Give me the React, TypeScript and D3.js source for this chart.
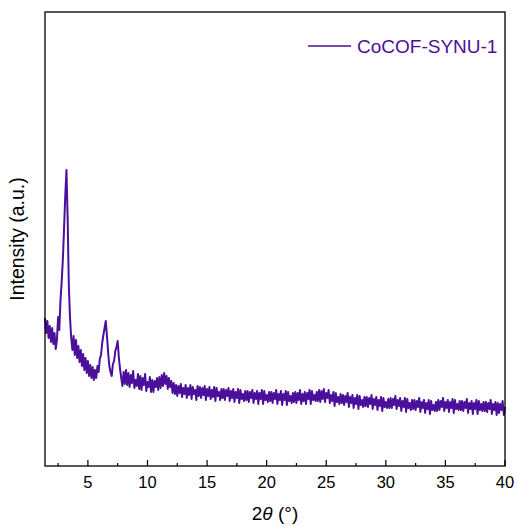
import React from "react";
import * as d3 from "d3";

const seriesName = "CoCOF-SYNU-1";
const startAngle = 1.4;
const angleStep = 0.1;
const intensity: number[] = [
  148, 133, 145, 128, 140, 124, 138, 122, 133, 117,
  126, 149, 136, 166, 184, 207, 238, 270, 296, 248,
  180, 148, 128, 116, 130, 111, 126, 108, 120, 104,
  116, 100, 112, 96, 108, 93, 105, 90, 101, 88,
  99, 86, 96, 88, 100, 94, 107, 111, 123, 131,
  138, 145, 130, 113, 100, 94, 90, 102, 105, 115,
  119, 125, 108, 97, 88, 80, 94, 82, 96, 81,
  93, 79, 91, 83, 95, 78, 86, 80, 92, 77,
  90, 76, 88, 81, 92, 75, 84, 79, 89, 74,
  86, 74, 85, 79, 88, 76, 89, 78, 91, 80,
  93, 82, 90, 77, 88, 79, 85, 73, 83, 72,
  81, 70, 80, 73, 82, 69, 78, 72, 81, 68,
  78, 71, 81, 67, 79, 72, 76, 66, 80, 70,
  79, 68, 78, 71, 80, 66, 77, 70, 79, 67,
  76, 69, 79, 65, 78, 70, 74, 66, 77, 68,
  77, 66, 76, 70, 78, 65, 75, 68, 77, 64,
  74, 68, 77, 63, 76, 67, 72, 65, 75, 66,
  75, 64, 74, 68, 76, 63, 73, 67, 75, 62,
  73, 67, 76, 62, 75, 66, 71, 64, 74, 65,
  74, 63, 73, 67, 76, 62, 72, 66, 75, 61,
  72, 66, 75, 61, 74, 65, 70, 63, 73, 64,
  74, 63, 73, 66, 76, 62, 72, 65, 74, 62,
  73, 67, 76, 62, 75, 66, 71, 65, 74, 65,
  76, 64, 75, 67, 77, 64, 73, 68, 76, 63,
  71, 65, 74, 60, 73, 64, 69, 62, 72, 63,
  71, 61, 70, 64, 73, 59, 69, 63, 71, 58,
  68, 62, 71, 57, 70, 61, 66, 59, 69, 60,
  69, 59, 68, 62, 71, 57, 67, 61, 69, 56,
  66, 60, 69, 55, 68, 59, 64, 58, 67, 58,
  68, 58, 67, 61, 70, 57, 66, 60, 68, 55,
  65, 59, 68, 54, 67, 58, 63, 56, 66, 57,
  66, 56, 65, 59, 68, 54, 64, 58, 66, 53,
  63, 57, 66, 52, 65, 56, 61, 55, 64, 55,
  66, 56, 65, 59, 68, 55, 64, 58, 66, 54,
  64, 58, 67, 53, 66, 57, 62, 56, 65, 56,
  65, 55, 64, 58, 67, 53, 63, 57, 65, 52,
  63, 57, 66, 52, 65, 56, 62, 55, 64, 55,
  64, 54, 63, 57, 66, 52, 62, 56, 64, 51,
  63, 53, 62, 56, 65, 51, 59,
];
const xTicks = [5, 10, 15, 20, 25, 30, 35, 40];
const xMinorTicks = [2.5, 7.5, 12.5, 17.5, 22.5, 27.5, 32.5, 37.5];

const W = 517;
const H = 526;
const L = 45, R = 505, T = 12, B = 466;
const color = "#4a0f9b";
const font = "'Liberation Sans', Arial, sans-serif";

export default function App() {
  const x = d3.scaleLinear().domain([1.4, 40]).range([L, R]);
  const y = d3.scaleLinear().domain([0, 454]).range([B, T]);
  const pts: [number, number][] = intensity.map((v, i) => [startAngle + i * angleStep, v]);
  const line = d3.line<[number, number]>().x((d) => x(d[0])).y((d) => y(d[1]));
  return (
    <svg width={W} height={H} style={{ position: "absolute", left: 0, top: 0, background: "#fff" }} fontFamily={font}>
      <rect x={0} y={0} width={W} height={H} fill="#fff" />
      <path d={line(pts) || ""} fill="none" stroke={color} strokeWidth={2} strokeLinejoin="round" />
      <rect x={L} y={T} width={R - L} height={B - T} fill="none" stroke="#000" strokeWidth={1.3} />
      {xTicks.map((t) => (
        <g key={t}>
          <line x1={x(t)} x2={x(t)} y1={B} y2={B - 6} stroke="#000" strokeWidth={1.2} />
          <text x={x(t)} y={488} fontSize={16.5} textAnchor="middle" fill="#000">{t}</text>
        </g>
      ))}
      {xMinorTicks.map((t) => (
        <line key={t} x1={x(t)} x2={x(t)} y1={B} y2={B - 3} stroke="#000" strokeWidth={1.2} />
      ))}
      <text x={(L + R) / 2} y={520} fontSize={19} textAnchor="middle" fill="#000">
        2<tspan fontStyle="italic">θ</tspan> (°)
      </text>
      <text transform={`translate(24, ${(T + B) / 2}) rotate(-90)`} fontSize={19.5} textAnchor="middle" fill="#000">
        Intensity (a.u.)
      </text>
      <line x1={308} x2={351} y1={46} y2={46} stroke={color} strokeWidth={1.6} />
      <text x={357} y={52.5} fontSize={19} fill={color}>{seriesName}</text>
    </svg>
  );
}
